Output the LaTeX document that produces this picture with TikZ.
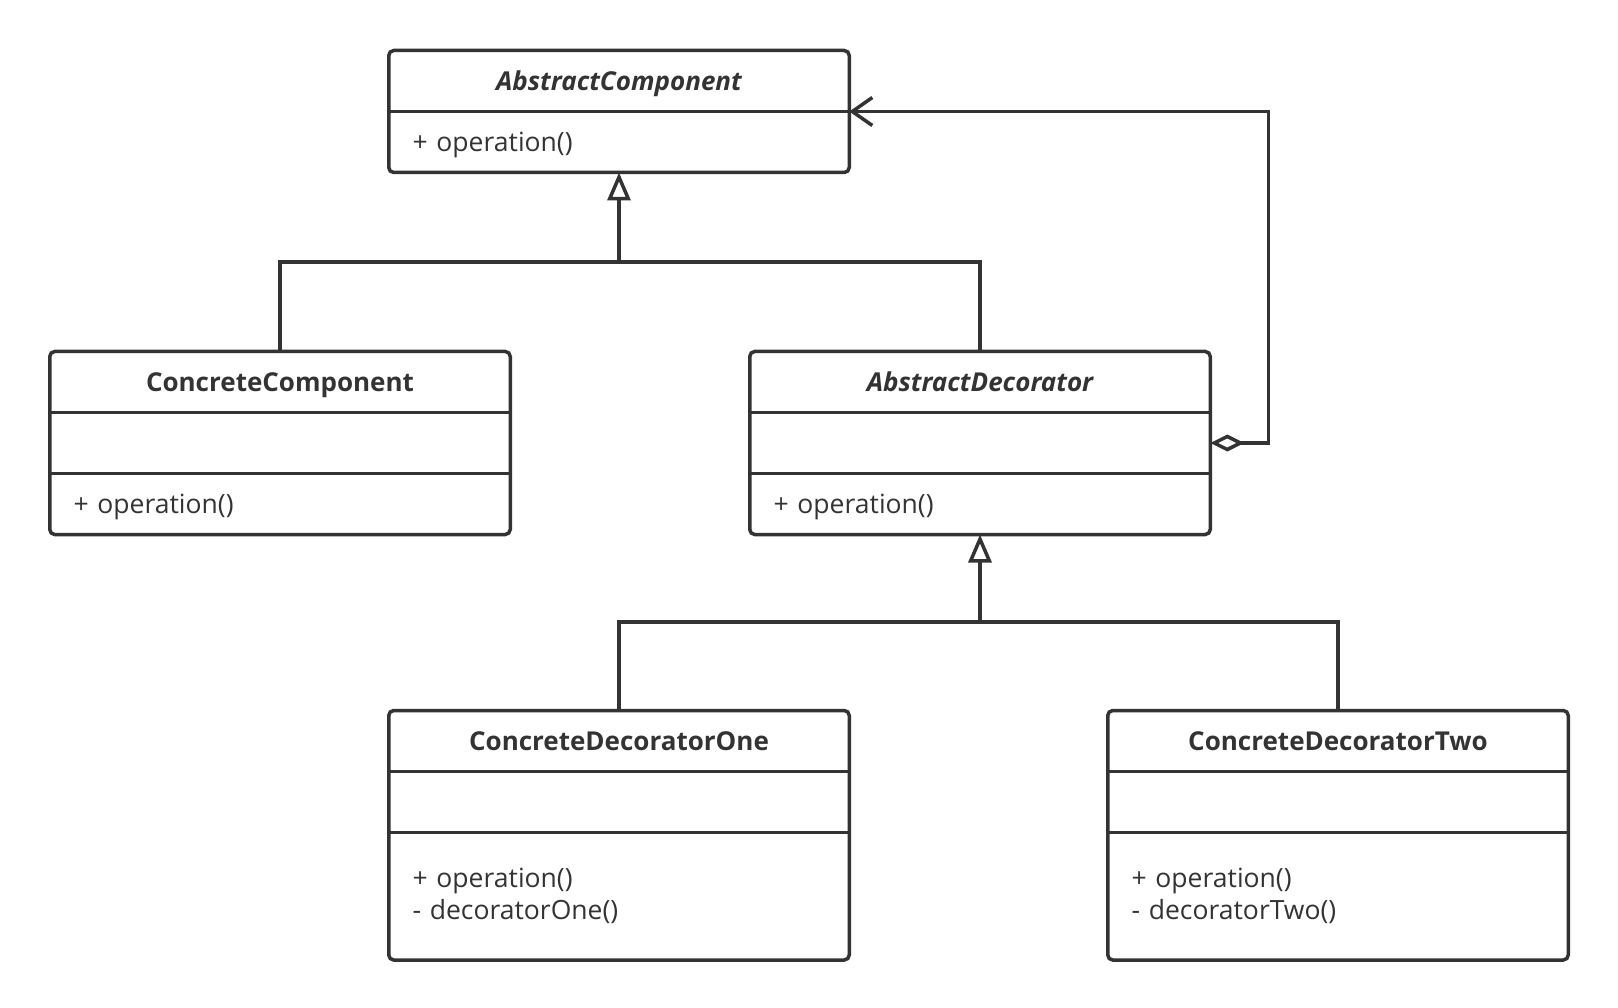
\documentclass[tikz,border=0pt]{standalone}
\usepackage{fontspec}
\setmainfont{Open Sans}
\usepackage{tikz}
\usetikzlibrary{positioning}
\usetikzlibrary{arrows.meta}
\definecolor{umlgray}{HTML}{333333}

\begin{document}
\begin{tikzpicture}[x=1pt, y=-1pt, draw=umlgray, line width=3.5pt, font=\fontsize{26.5}{32}\selectfont, text=umlgray]
		\tikzstyle{title}=[rectangle, minimum width=457pt, minimum height=57.5pt, inner sep=0pt, text depth=0pt, font=\fontsize{26}{32}\selectfont\bfseries]
		\tikzstyle{part}=[rectangle, minimum width=457pt, minimum height=57.5pt, inner xsep=22pt, inner ysep=0pt, text width=413pt, align=left]
		\tikzstyle{member}=[part, text depth=0pt]
		\tikzstyle{frame}=[rounded corners=5pt]
		\tikzstyle{inherit}=[-{Triangle[open, length=28pt, width=23pt]}]
		\tikzstyle{aggr}=[{Diamond[open, length=34pt, width=17pt]}-{Straight Barb[length=20pt, width=28pt]}]

		\useasboundingbox (0,0) rectangle (1618,1008);

		% abstract component
		\node[title] (ac) at (619,81) {\itshape AbstractComponent};
		\node[member, below=0pt of ac] (acm) {+ operation()};
		\draw[frame] (ac.north west) rectangle (acm.south east);
		\draw (ac.south west) -- (ac.south east);

		% concrete component
		\node[title] (cc) at (280,382) {ConcreteComponent};
		\node[member, below=0pt of cc] (cca) {};
		\node[member, below=0pt of cca] (ccm) {+ operation()};
		\draw[frame] (cc.north west) rectangle (ccm.south east);
		\draw (cc.south west) -- (cc.south east);
		\draw (cca.south west) -- (cca.south east);

		% abstract decorator
		\node[title] (ad) at (980,382) {\itshape AbstractDecorator};
		\node[member, below=0pt of ad] (ada) {};
		\node[member, below=0pt of ada] (adm) {+ operation()};
		\draw[frame] (ad.north west) rectangle (adm.south east);
		\draw (ad.south west) -- (ad.south east);
		\draw (ada.south west) -- (ada.south east);

		% concrete decorators
		\node[title] (cd1) at (619,741) {ConcreteDecoratorOne};
		\node[member, below=0pt of cd1] (cd1a) {};
		\node[part, below=0pt of cd1a, minimum height=124pt] (cd1m) {+ operation()\\- decoratorOne()};
		\draw[frame] (cd1.north west) rectangle (cd1m.south east);
		\draw (cd1.south west) -- (cd1.south east);
		\draw (cd1a.south west) -- (cd1a.south east);

		\node[title] (cd2) at (1338,741) {ConcreteDecoratorTwo};
		\node[member, below=0pt of cd2] (cd2a) {};
		\node[part, below=0pt of cd2a, minimum height=124pt] (cd2m) {+ operation()\\- decoratorTwo()};
		\draw[frame] (cd2.north west) rectangle (cd2m.south east);
		\draw (cd2.south west) -- (cd2.south east);
		\draw (cd2a.south west) -- (cd2a.south east);

		% inheritance
		\coordinate (j1) at (619,262);
		\coordinate (j2) at (980,622);
		\draw (cc.north) |- (j1) -| (ad.north);
		\draw[inherit] (j1) -- (acm.south);
		\draw (cd1.north) |- (j2) -| (cd2.north);
		\draw[inherit] (j2) -- (adm.south);

		% aggregation
		\draw[aggr] (ada.east) -- ++(58,0) |- (ac.south east);
	\end{tikzpicture}
\end{document}
